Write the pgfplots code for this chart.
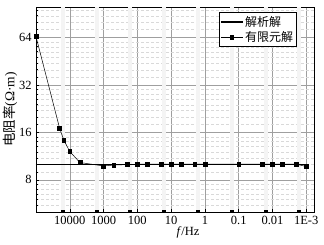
\documentclass[border=0pt]{standalone}
\usepackage{fontspec}
\setmainfont{Liberation Serif}
\newfontfamily\cjk{Noto Sans CJK SC}
\usepackage{pgfplots}
\pgfplotsset{compat=1.18}
\begin{document}
\fontsize{12.5}{14}\selectfont
\begin{tikzpicture}
\begin{axis}[
  scale only axis, width=278pt, height=205pt,
  xmode=log, ymode=log,
  x dir=reverse,
  xmin=5.9e-4, xmax=1e5, ymin=5, ymax=100,
  xtick={1e4,1e3,100,10,1,0.1,0.01,0.001},
  xticklabels={10000,1000,100,10,1,0.1,0.01,1E-3},
  ytick={8,16,32,64}, yticklabels={8,16,32,64},
  minor ytick={5.5,6,6.5,7,7.5,9,10,11,12,13,14,15,18,20,22,24,26,28,30,36,40,44,48,52,56,60,72,80,88,96},
  xminorticks=false,
  xmajorgrids=true, ymajorgrids=true, yminorgrids=true, xminorgrids=false,
  major grid style={gray!75, line width=0.5pt},
  minor grid style={densely dashed, gray!30, line width=0.3pt},
  extra x ticks={16000,1600,160,16,1.6,0.16,0.016,0.0016},
  extra x tick labels={},
  extra x tick style={grid=major, major grid style={gray!9, line width=4pt}, major tick length=1.8pt, tick style={line width=4pt, black}},
  xtick pos=bottom, ytick pos=left, tick align=inside,
  major tick length=3pt, minor tick length=2pt,
  tick style={black, line width=0.5pt},
  axis line style={line width=0.8pt},
  /pgf/number format/assume math mode=true,
  xlabel={\textit{f}/Hz},
  xlabel style={at={(axis description cs:0.547,-0.102)}, anchor=center},
  ylabel={{\cjk 电阻率}(Ω·m)},
  ylabel style={at={(axis description cs:-0.0935,0.5)}, anchor=center, font=\fontsize{13.5}{15}\selectfont},
  legend style={at={(axis description cs:0.939,0.974)}, anchor=north east,
    draw=black, line width=0.6pt, font=\cjk\fontsize{12}{13}\selectfont, inner sep=1.5pt, row sep=-1pt,
    cells={anchor=west}},
  legend image code/.code={
    \draw[mark repeat=2,mark phase=2,#1] plot coordinates {(0cm,0cm) (0.38cm,0cm) (0.76cm,0cm)};},
  legend cell align=left,
]
\addplot[black, line width=1.3pt] coordinates {(1e5,10.05) (0.001,10.05)};
\addlegendentry{解析解}
\addplot[black, line width=0.5pt, mark=square*, mark size=1.9pt] coordinates {
 (1e5,65) (2e4,17.0) (1.5e4,14.3) (1e4,12.1) (5000,10.3) (1000,9.8) (500,9.93)
 (200,10.0) (100,10.05) (50,10.05) (20,10.05) (10,10.05) (5,10.05) (2,10.05)
 (1,10.05) (0.1,10.05) (0.02,10.05) (0.01,10.05) (0.005,10.05) (0.002,10.05) (0.001,9.73)};
\addlegendentry{有限元解}
\coordinate (sw) at (rel axis cs:0,0);
\coordinate (ne) at (rel axis cs:1,1);
\end{axis}
\pgfresetboundingbox
\path ([shift={(-36pt,-32pt)}]sw) rectangle ([shift={(10pt,7pt)}]ne);
\end{tikzpicture}
\end{document}
